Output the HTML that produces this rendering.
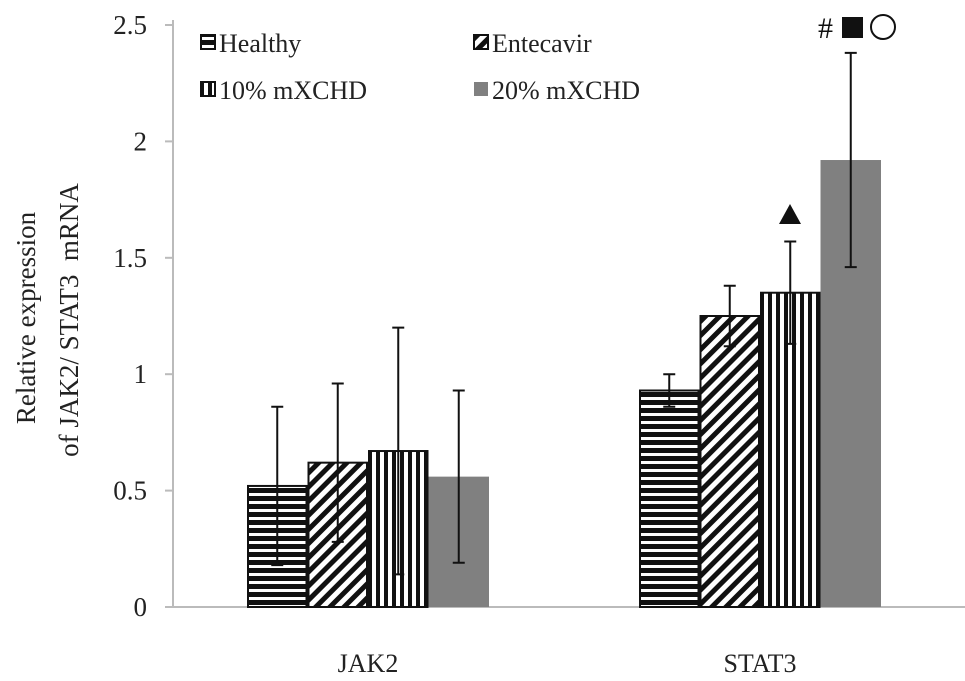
<!DOCTYPE html>
<html><head><meta charset="utf-8"><style>body{margin:0;background:#fff}svg{display:block}</style></head>
<body>
<svg width="965" height="681" viewBox="0 0 965 681" font-family="Liberation Serif, serif">
<defs>
<pattern id="ph" width="8" height="8" patternUnits="userSpaceOnUse"><rect width="8" height="8" fill="#fff"/><rect width="8" height="5" fill="#111"/></pattern>
<pattern id="pd" width="10" height="10" patternUnits="userSpaceOnUse" patternTransform="rotate(45)"><rect width="10" height="10" fill="#fff"/><rect width="5" height="10" fill="#111"/></pattern>
<pattern id="pv" width="8" height="8" patternUnits="userSpaceOnUse"><rect width="8" height="8" fill="#fff"/><rect width="4" height="8" fill="#111"/></pattern>
</defs>
<g id="plot"></g>
<text x="0" y="0" transform="translate(35,318) rotate(-90)" text-anchor="middle" font-size="27" fill="#222">Relative expression</text>
<text x="0" y="0" transform="translate(78,320) rotate(-90)" text-anchor="middle" font-size="27" fill="#222" xml:space="preserve">of JAK2/ STAT3  mRNA</text>
<g font-size="26" fill="#222">
<rect x="201" y="35" width="14" height="14" fill="url(#ph)" stroke="#111" stroke-width="2"/><text x="219" y="52">Healthy</text>
<rect x="474" y="35" width="14" height="14" fill="url(#pd)" stroke="#111" stroke-width="2"/><text x="492" y="52">Entecavir</text>
<rect x="201" y="82" width="14" height="14" fill="url(#pv)" stroke="#111" stroke-width="2"/><text x="219" y="99">10% mXCHD</text>
<rect x="474" y="82" width="14" height="14" fill="#808080"/><text x="492" y="99">20% mXCHD</text>
</g>
<g>
<text x="818" y="38" font-size="30" fill="#111">#</text>
<rect x="842" y="17" width="21" height="21" fill="#111"/>
<circle cx="883" cy="27" r="12" fill="none" stroke="#111" stroke-width="2"/>
</g>
<polygon points="779,224 801,224 790,204" fill="#111"/>
</svg>
<script>
const categories=["JAK2","STAT3"];
const seriesNames=["Healthy","Entecavir","10% mXCHD","20% mXCHD"];
const means=[[0.52,0.62,0.67,0.56],[0.93,1.25,1.35,1.92]];
const errHi=[[0.86,0.96,1.20,0.93],[1.00,1.38,1.57,2.38]];
const errLo=[[0.18,0.28,0.14,0.19],[0.86,1.12,1.13,1.46]];
const yTicks=[0,0.5,1,1.5,2,2.5];
const yTickLabels=["0","0.5","1","1.5","2","2.5"];
const fills=["url(#ph)","url(#pd)","url(#pv)","#808080"];
const NS="http://www.w3.org/2000/svg";
const g=document.getElementById('plot');
const y=v=>607-v*232.8;
const groupStart=[247,639],bw=60.5;
function mk(t,a){const e=document.createElementNS(NS,t);for(const k in a)e.setAttribute(k,a[k]);g.appendChild(e);return e;}
let ax=mk('line',{x1:165,y1:607,x2:965,y2:607,stroke:'#bbb','stroke-width':2});


let ay=mk('line',{x1:173,y1:20,x2:173,y2:607,stroke:'#bbb','stroke-width':2});


yTicks.forEach((v,i)=>{
 const tk=mk('line',{x1:165,x2:173,y1:y(v),y2:y(v),stroke:'#bbb','stroke-width':2});
 
 
 const t=mk('text',{x:147,y:y(v)+9,'text-anchor':'end','font-size':27,fill:'#222'});t.textContent=yTickLabels[i];
 
 });
categories.forEach((c,ci)=>{
 const t=mk('text',{x:groupStart[ci]+2*bw,y:672,'text-anchor':'middle','font-size':26,fill:'#222'});t.textContent=c;
 
 
 means[ci].forEach((m,si)=>{
  const x=groupStart[ci]+si*bw;
  const r=mk('rect',{x:x+(si<3?1:0),y:y(m),width:bw-(si<3?2:0),height:607-y(m),fill:fills[si],stroke:si<3?'#111':'none','stroke-width':2});
  
  
  const cx=x+bw/2;
  const e=mk('path',{d:`M${cx},${y(errHi[ci][si])}V${y(errLo[ci][si])}M${cx-6},${y(errHi[ci][si])}h12M${cx-6},${y(errLo[ci][si])}h12`,stroke:'#111','stroke-width':2,fill:'none'});
  
  
 });
});
</script>
</body></html>
